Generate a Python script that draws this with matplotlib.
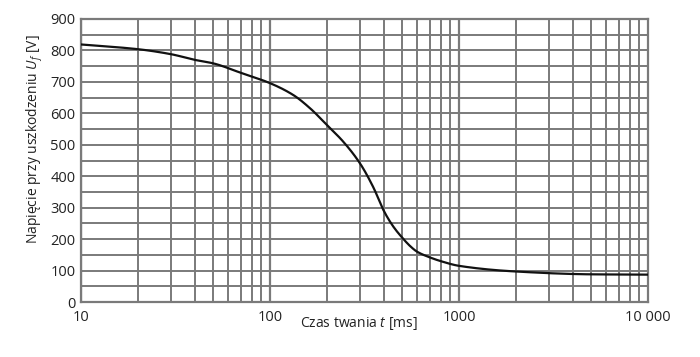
import matplotlib
matplotlib.use("Agg")
import matplotlib.pyplot as plt
import numpy as np

# Data
t_ms = [10, 20, 30, 40, 50, 70, 100, 133, 163, 200, 244, 300, 352, 400, 449, 500, 551, 600, 700, 800, 1000, 2000, 5000, 10000]
u_f = [819, 804, 788, 770, 759, 729, 696, 658, 616, 563, 510, 440, 365, 290, 240, 205, 178, 160, 142, 130, 115, 97, 88, 87]

x_ticks = [10, 100, 1000, 10000]
x_tick_labels = ["10", "100", "1000", "10 000"]
y_ticks = [0, 100, 200, 300, 400, 500, 600, 700, 800, 900]

plt.rcParams['font.family'] = ['Open Sans', 'DejaVu Sans']
plt.rcParams['mathtext.fontset'] = 'custom'
plt.rcParams['mathtext.it'] = 'Open Sans:italic'
plt.rcParams['mathtext.rm'] = 'Open Sans'

fig = plt.figure(figsize=(7.0, 3.57), dpi=100)
ax = fig.add_axes([81/700, 55/357, (648-81)/700, (302-19)/357])

def pchip(x, y, xn):
    x = np.asarray(x, float); y = np.asarray(y, float)
    h = np.diff(x); d = np.diff(y) / h
    n = len(x); m = np.zeros(n)
    for k in range(1, n - 1):
        if d[k-1] * d[k] > 0:
            w1 = 2*h[k] + h[k-1]; w2 = h[k] + 2*h[k-1]
            m[k] = (w1 + w2) / (w1/d[k-1] + w2/d[k])
    m[0] = d[0]; m[-1] = d[-1]
    idx = np.clip(np.searchsorted(x, xn) - 1, 0, n - 2)
    hh = h[idx]; s = (xn - x[idx]) / hh
    h00 = 2*s**3 - 3*s**2 + 1; h10 = s**3 - 2*s**2 + s
    h01 = -2*s**3 + 3*s**2; h11 = s**3 - s**2
    return h00*y[idx] + h10*hh*m[idx] + h01*y[idx+1] + h11*hh*m[idx+1]

lx = np.log10(t_ms)
xs = np.linspace(lx[0], lx[-1], 500)
ys = pchip(lx, u_f, xs)

ax.set_xscale('log')
ax.set_xlim(10, 10000)
ax.set_ylim(0, 900)

gc = '#7a7a7a'
for dec in [10, 100, 1000]:
    for k in range(2, 10):
        ax.axvline(dec * k, color=gc, lw=1.4, zorder=1)
for v in [10, 100, 1000]:
    ax.axvline(v, color=gc, lw=1.6, zorder=1)
for v in range(50, 900, 50):
    ax.axhline(v, color=gc, lw=1.4, zorder=1)

ax.plot(10**xs, ys, color='#111111', lw=1.6, zorder=3)

for s in ax.spines.values():
    s.set_color(gc)
    s.set_linewidth(1.6)

ax.set_xticks(x_ticks)
ax.set_xticklabels(x_tick_labels)
ax.xaxis.set_minor_locator(matplotlib.ticker.NullLocator())
ax.set_yticks(y_ticks)
ax.tick_params(length=0, labelsize=10.5, colors='#222222', pad=4)
ax.tick_params(axis='x', pad=6)

fig.text(359/700, 1 - 324/357, "Czas twania $t$ [ms]", ha='center', va='center',
         fontsize=10, color='#222222')
fig.text(35/700, 1 - 139/357, "Napięcie przy uszkodzeniu $U_f$ [V]", ha='center', va='center',
         rotation=90, fontsize=10, color='#222222')

fig.savefig("out.png", dpi=100, facecolor='white')
